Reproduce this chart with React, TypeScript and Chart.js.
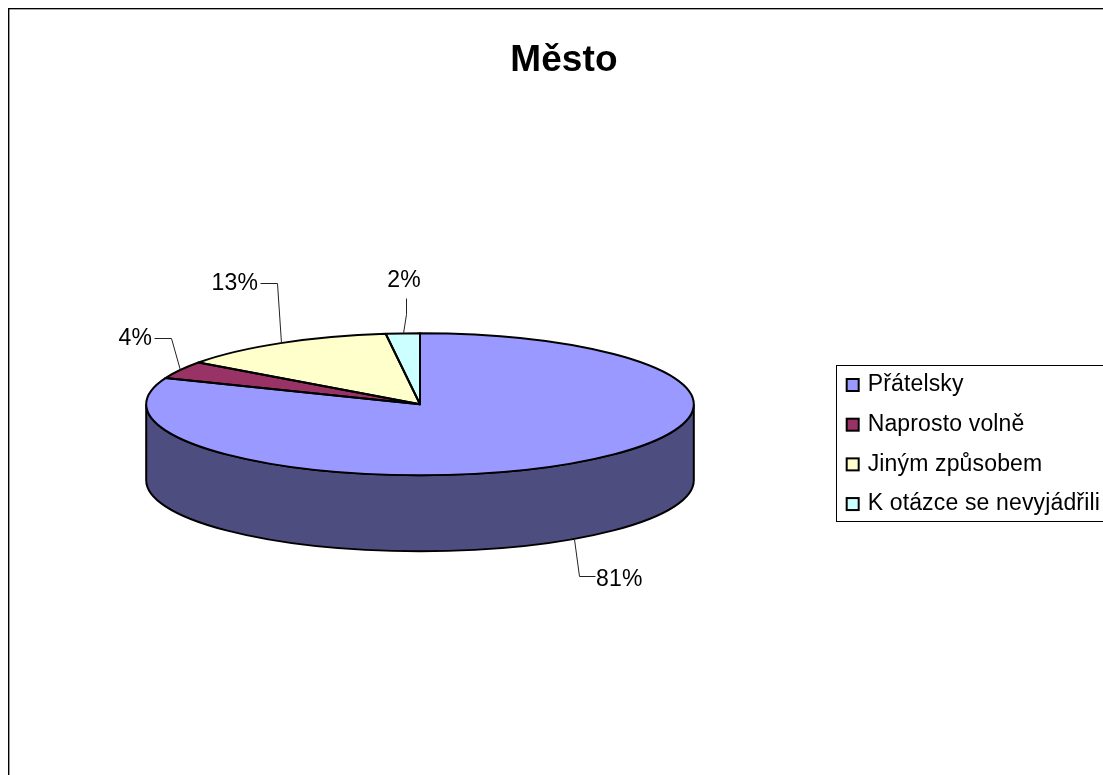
import React, { useEffect, useRef } from "react";
import { Chart, registerables } from "chart.js";

Chart.register(...registerables);

const TITLE = "Město";
const categories = ["Přátelsky", "Naprosto volně", "Jiným způsobem", "K otázce se nevyjádřili"];
const values = [81, 4, 13, 2];
const colors = ["#9999FF", "#993366", "#FFFFCC", "#CCFFFF"];
const sideColors = ["#4D4D80", "#4D1A33", "#808066", "#668080"];

const FONT_FAMILY = '"Liberation Sans", Arial, sans-serif';
const LABEL_SIZE = 23;
const SQUASH = 71 / 274;
const DEPTH = 76;

// leader shape per slice, relative to the point on the rim: bend, end, text anchor
const leaders = [
  { depth: true, pts: [[5, 37], [21, 37]], text: [22, 41], align: "left" },
  { depth: false, pts: [[-9, -32], [-26, -32]], text: [-28, -31], align: "right" },
  { depth: false, pts: [[-4, -60], [-21, -60]], text: [-23, -59], align: "right" },
  { depth: false, pts: [[3, -19], [3, -35]], text: [1, -52], align: "center" },
];

const legendSwatch = (color: string) => {
  const s = document.createElement("canvas");
  s.width = 16;
  s.height = 16;
  const c = s.getContext("2d")!;
  c.fillStyle = color;
  c.fillRect(1, 1, 14, 14);
  c.strokeStyle = "#000";
  c.lineWidth = 2;
  c.strokeRect(2, 2, 12, 12);
  return s;
};

const App = () => {
  const ref = useRef<HTMLCanvasElement>(null);
  useEffect(() => {
    const spacing = (chart: any) => {
      chart.ctx.letterSpacing = "0.15px";
    };
    const pie3d = {
      id: "pie3d",
      beforeUpdate: spacing,
      beforeLayout: spacing,
      beforeDraw(chart: any) {
        spacing(chart);
        const c = chart.ctx;
        c.save();
        c.fillStyle = "#000";
        c.fillRect(0, 0, chart.width, 1);
        c.fillStyle = "#aaa";
        c.fillRect(1, 1, chart.width, 1);
        c.fillStyle = "#000";
        c.fillRect(0, 0, 1.4, chart.height);
        c.restore();
      },
      afterLayout(chart: any) {
        const t = chart.titleBlock;
        t.left = 0;
        t.right = 1112;
        const l = chart.legend;
        l.left = 824.5;
        l.top = 348.83;
        l.right = chart.width;
        l.bottom = 530;
      },
      beforeDatasetsDraw(chart: any) {
        const c = chart.ctx;
        const arcs = chart.getDatasetMeta(0).data;
        const { x, y, outerRadius: r } = arcs[0];
        const ry = r * SQUASH;
        c.save();
        arcs.forEach((a: any, i: number) => {
          const from = Math.max(a.startAngle, 0);
          const to = Math.min(a.endAngle, Math.PI);
          if (to <= from) return;
          c.beginPath();
          c.ellipse(x, y, r, ry, 0, from, to);
          c.ellipse(x, y + DEPTH, r, ry, 0, to, from, true);
          c.closePath();
          c.fillStyle = sideColors[i];
          c.fill();
          c.lineWidth = 2;
          c.strokeStyle = "#000";
          c.stroke();
        });
        c.restore();
        c.save();
        c.translate(x, y);
        c.scale(1, SQUASH);
        c.translate(-x, -y);
      },
      afterDatasetsDraw(chart: any) {
        const c = chart.ctx;
        c.restore();
        const arcs = chart.getDatasetMeta(0).data;
        c.save();
        c.lineWidth = 2;
        c.strokeStyle = "#000";
        c.lineJoin = "round";
        arcs.forEach((a: any) => {
          c.beginPath();
          c.moveTo(a.x, a.y);
          c.ellipse(a.x, a.y, a.outerRadius, a.outerRadius * SQUASH, 0, a.startAngle, a.endAngle);
          c.closePath();
          c.stroke();
        });
        c.font = `${LABEL_SIZE}px ${FONT_FAMILY}`;
        c.textBaseline = "middle";
        arcs.forEach((a: any, i: number) => {
          const mid = (a.startAngle + a.endAngle) / 2;
          const L = leaders[i];
          const px = Math.round(a.x + a.outerRadius * Math.cos(mid));
          const py = Math.round(a.y + a.outerRadius * SQUASH * Math.sin(mid) + (L.depth ? DEPTH : 0));
          c.beginPath();
          c.moveTo(px + 0.5, py + 0.5);
          L.pts.forEach((p) => c.lineTo(px + p[0] + 0.5, py + p[1] + 0.5));
          c.lineWidth = 1;
          c.strokeStyle = "#222";
          c.stroke();
          c.fillStyle = "#000";
          c.textAlign = L.align;
          c.fillText(`${values[i]}%`, px + L.text[0], py + L.text[1]);
        });
        c.restore();
        c.save();
        c.strokeStyle = "#000";
        c.lineWidth = 1;
        c.strokeRect(828.5, 357.5, chart.width, 156);
        c.restore();
      },
    };

    const chart = new Chart(ref.current!, {
      type: "pie",
      data: {
        labels: categories,
        datasets: [{ data: values, backgroundColor: colors, borderWidth: 0 }],
      },
      plugins: [pie3d],
      options: {
        animation: false,
        responsive: false,
        maintainAspectRatio: false,
        events: [],
        layout: { padding: { left: 138, right: 409, top: 0, bottom: 97 } },
        plugins: {
          tooltip: { enabled: false },
          title: {
            display: true,
            text: TITLE,
            color: "#000",
            font: { family: FONT_FAMILY, size: 37, weight: "bold", lineHeight: 1.2 },
            padding: { top: 31, bottom: 47 },
          },
          legend: {
            display: true,
            position: "chartArea",
            align: "start",
            labels: {
              color: "#000",
              usePointStyle: true,
              pointStyleWidth: 7,
              boxHeight: 14,
              padding: 16.67,
              font: { family: FONT_FAMILY, size: LABEL_SIZE },
              generateLabels(c: any) {
                const base = (Chart as any).overrides.doughnut.plugins.legend.labels.generateLabels(c);
                return base.map((it: any, i: number) => ({ ...it, pointStyle: legendSwatch(colors[i]) }));
              },
            },
          },
        },
      },
    } as any);
    return () => chart.destroy();
  }, []);
  return (
    <div style={{ position: "fixed", left: 8, top: 8, width: 1095, height: 767, overflow: "hidden" }}>
      <canvas ref={ref} width={1095} height={767} style={{ display: "block" }} />
    </div>
  );
};

export default App;
